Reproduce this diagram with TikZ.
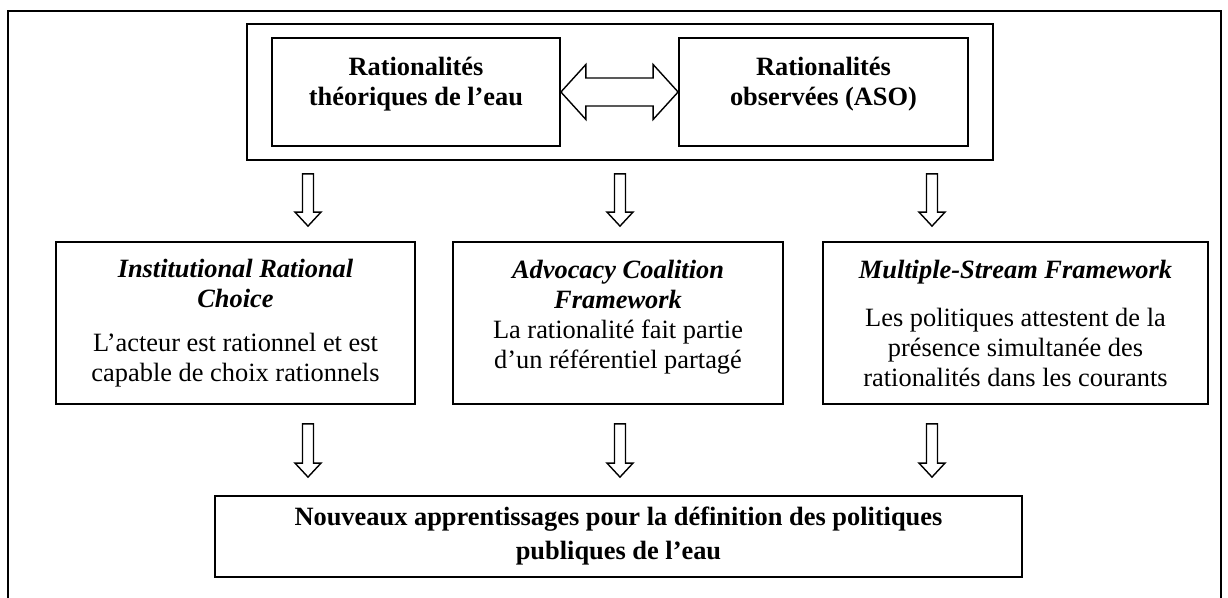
\documentclass[tikz,border=0pt]{standalone}
\usepackage{fontspec}
\setmainfont{Liberation Serif}
\usetikzlibrary{calc}

\tikzset{
  frame/.style={line width=0.9pt},
  box/.style={draw, line width=0.9pt, align=center, inner sep=0pt,
    font=\fontsize{13.2}{15}\selectfont},
  head/.style={box, font=\fontsize{13.2}{15}\selectfont\bfseries},
  hollow/.style 2 args={line width=0.7pt, to path={
    let \p1=(\tikztostart), \p2=(\tikztotarget) in
    (\x1-2.75pt,\y1-#1) -- (\x1-2.75pt,\y2+#2+7pt) -- (\x1-6.5pt,\y2+#2+7pt)
    -- (\x1,\y2+#2) -- (\x1+6.5pt,\y2+#2+7pt) -- (\x1+2.75pt,\y2+#2+7pt)
    -- (\x1+2.75pt,\y1-#1) -- cycle}},
  twoway/.style={line width=0.7pt, to path={
    let \p1=(\tikztostart), \p2=(\tikztotarget) in
    (\x1,\y1) -- (\x1+12.5pt,\y1+13.75pt) -- (\x1+12.5pt,\y1+7pt)
    -- (\x2-12.5pt,\y1+7pt) -- (\x2-12.5pt,\y1+13.75pt) -- (\x2,\y1)
    -- (\x2-12.5pt,\y1-13.75pt) -- (\x2-12.5pt,\y1-7pt)
    -- (\x1+12.5pt,\y1-7pt) -- (\x1+12.5pt,\y1-13.75pt) -- cycle}},
}

\begin{document}
\begin{tikzpicture}[x=0.5pt, y=-0.5pt]
  \useasboundingbox (0,0) rectangle (1228,598);
  % outer frame, open at the bottom
  \draw[frame] (8,598) |- (1221,11) -- (1221,598);

  % the two rationalities
  \node[box, minimum width=373pt, minimum height=68pt] (cont) at (620,92) {};
  \node[head, minimum width=144pt, minimum height=54pt, text depth=10.9pt]
    (theo) at (416,92) {Rationalités\\théoriques de l’eau};
  \node[head, minimum width=144.5pt, minimum height=54pt, text depth=10.9pt]
    (obs) at (823.5,92) {Rationalités\\observées (ASO)};
  \draw[twoway] (theo.east) to (obs.west);

  % the three frameworks
  \node[box, minimum width=179.5pt, minimum height=81pt] (irc) at (235.5,323)
    {\textbf{\textit{Institutional Rational}}\\\textbf{\textit{Choice}}\\[7pt]
     L’acteur est rationnel et est\\capable de choix rationnels};
  \node[box, minimum width=165pt, minimum height=81pt, text depth=8.9pt] (acf) at (618,323)
    {\textbf{\textit{Advocacy Coalition}}\\\textbf{\textit{Framework}}\\
     La rationalité fait partie\\d’un référentiel partagé};
  \node[box, minimum width=192.5pt, minimum height=81pt] (msf) at (1015.5,323)
    {\textbf{\textit{Multiple-Stream Framework}}\\[9pt]
     Les politiques attestent de la\\présence simultanée des\\rationalités dans les courants};

  \node[head, minimum width=403.5pt, minimum height=40.5pt] (learn) at (618.5,536.5)
    {Nouveaux apprentissages pour la définition des politiques\\[2pt]publiques de l’eau};

  % hollow arrows
  \coordinate (colL) at (308,0);
  \coordinate (colM) at (620,0);
  \coordinate (colR) at (932,0);
  \foreach \c/\f in {colL/irc, colM/acf, colR/msf} {
    \draw[hollow={6.5pt}{7.5pt}] (\c |- cont.south) to (\c |- \f.north);
    \draw[hollow={9.5pt}{9pt}] (\c |- \f.south) to (\c |- learn.north);
  }
\end{tikzpicture}
\end{document}
